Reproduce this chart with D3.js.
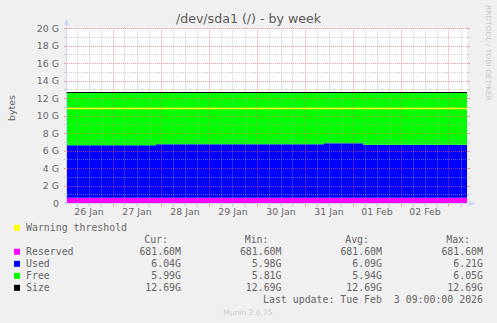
<!DOCTYPE html>
<html>
<head>
<meta charset="utf-8">
<script src="https://cdn.jsdelivr.net/npm/d3@7"></script>
<style>
  html, body { margin: 0; padding: 0; background: #F0F0F0; }
  svg { display: block; }
  text { white-space: pre; }
</style>
</head>
<body>
<script>
// ---- data (values in GiB) ----
const stepTimes = ["2026-01-26T01:00", "2026-01-27T21:30", "2026-01-31T09:30", "2026-02-01T05:00", "2026-02-03T09:00"];
const reservedVals = [0.6656, 0.6656, 0.6656, 0.6656, 0.6656];
const usedVals     = [5.98, 6.10, 6.21, 6.04, 6.04];
const freeVals     = [6.05, 5.92, 5.81, 5.99, 5.99];
const sizeVals     = [12.69, 12.69, 12.69, 12.69, 12.69];
const warningVals  = [10.88, 10.88, 10.88, 10.88, 10.88];

const yTickValues = [0, 2, 4, 6, 8, 10, 12, 14, 16, 18, 20];
const yTickLabels = ["0", "2 G", "4 G", "6 G", "8 G", "10 G", "12 G", "14 G", "16 G", "18 G", "20 G"];
const dayLabels = ["26 Jan", "27 Jan", "28 Jan", "29 Jan", "30 Jan", "31 Jan", "01 Feb", "02 Feb"];
const dayDates  = ["2026-01-26", "2026-01-27", "2026-01-28", "2026-01-29", "2026-01-30", "2026-01-31", "2026-02-01", "2026-02-02"];

const legendNames  = ["Reserved", "Used", "Free", "Size"];
const legendColors = ["#FF00FF", "#0000FF", "#00FF00", "#000000"];
const statHeaders  = ["Cur:", "Min:", "Avg:", "Max:"];
const statCur = ["681.60M", "6.04G", "5.99G", "12.69G"];
const statMin = ["681.60M", "5.98G", "5.81G", "12.69G"];
const statAvg = ["681.60M", "6.09G", "5.94G", "12.69G"];
const statMax = ["681.60M", "6.21G", "6.05G", "12.69G"];
const warningName = "Warning threshold";
const warningColor = "#FFFF00";
const lastUpdate = "Last update: Tue Feb  3 09:00:00 2026";

// ---- layout ----
const W = 497, H = 323;
const parse = d3.utcParse("%Y-%m-%dT%H:%M");
const parseDay = d3.utcParse("%Y-%m-%d");
const times = stepTimes.map(parse);

const x = d3.scaleUtc().domain([times[0], times[times.length - 1]]).range([67, 467]);
const y = d3.scaleLinear().domain([0, 20]).range([203.5, 28.5]);
const snap = v => Math.floor(v) + 0.5;

const svg = d3.select("body").append("svg").attr("width", W).attr("height", H);
svg.append("rect").attr("width", W).attr("height", H).attr("fill", "#F0F0F0");

// plot canvas
svg.append("rect").attr("x", 67).attr("y", 28.5).attr("width", 400).attr("height", 175).attr("fill", "#FFFFFF");

// stacked areas
const rows = times.map((t, i) => ({
  t,
  r: reservedVals[i],
  u: usedVals[i],
  f: freeVals[i]
}));
const area = (lo, hi) => d3.area().curve(d3.curveStepAfter)
  .x(d => x(d.t)).y0(d => y(lo(d))).y1(d => y(hi(d)));

svg.append("path").datum(rows).attr("fill", "#FF00FF")
  .attr("d", area(d => 0, d => d.r));
svg.append("path").datum(rows).attr("fill", "#0000FF")
  .attr("d", area(d => d.r, d => d.r + d.u));
svg.append("path").datum(rows).attr("fill", "#00FF00")
  .attr("d", area(d => d.r + d.u, d => d.r + d.u + d.f));

// grid over the areas
const gridMinor = "rgba(170,170,170,0.55)";
const gridMajor = "rgba(240,90,90,0.6)";
const grid = svg.append("g").attr("stroke-width", 1).attr("stroke-dasharray", "1,1").attr("fill", "none");

const yMinor = d3.range(1, 20, 2);
yMinor.forEach(v => grid.append("line").attr("x1", 67).attr("x2", 467)
  .attr("y1", snap(y(v))).attr("y2", snap(y(v))).attr("stroke", gridMinor));
yTickValues.filter(v => v > 0).forEach(v => grid.append("line").attr("x1", 67).attr("x2", 467)
  .attr("y1", snap(y(v))).attr("y2", snap(y(v))).attr("stroke", gridMajor));

const sixHours = d3.utcHour.every(6).range(times[0], times[times.length - 1]);
sixHours.forEach(t => {
  const major = t.getUTCHours() === 0;
  grid.append("line").attr("x1", snap(x(t))).attr("x2", snap(x(t)))
    .attr("y1", 28.5).attr("y2", 203.5).attr("stroke", major ? gridMajor : gridMinor);
});

// small solid ticks outside the canvas
const ticks = svg.append("g").attr("stroke-width", 1);
d3.range(1, 21).forEach(v => {
  const c = v % 2 === 0 ? gridMajor : gridMinor;
  ticks.append("line").attr("x1", 64).attr("x2", 67).attr("y1", snap(y(v))).attr("y2", snap(y(v))).attr("stroke", c);
  ticks.append("line").attr("x1", 467).attr("x2", 470).attr("y1", snap(y(v))).attr("y2", snap(y(v))).attr("stroke", c);
});
sixHours.forEach(t => {
  const c = t.getUTCHours() === 0 ? gridMajor : gridMinor;
  ticks.append("line").attr("x1", snap(x(t))).attr("x2", snap(x(t))).attr("y1", 203.5).attr("y2", 206.5).attr("stroke", c);
});

// lines: size and warning threshold
const line = vals => d3.line().curve(d3.curveStepAfter).x((d, i) => x(times[i])).y(d => snap(y(d)))(vals);
svg.append("path").attr("d", line(warningVals)).attr("stroke", warningColor).attr("stroke-width", 1.3).attr("fill", "none");
svg.append("path").attr("d", line(sizeVals)).attr("stroke", "#000000").attr("stroke-width", 1.2).attr("fill", "none");

// axes with arrows
const axisColor = "#CFD6F8";
svg.append("line").attr("x1", 66.5).attr("x2", 66.5).attr("y1", 206).attr("y2", 24).attr("stroke", axisColor);
svg.append("path").attr("d", "M63.5,25 L69.5,25 L66.5,19 Z").attr("fill", axisColor);
svg.append("line").attr("x1", 64).attr("x2", 470).attr("y1", 203.5).attr("y2", 203.5).attr("stroke", axisColor);
svg.append("path").attr("d", "M469,200.5 L469,206.5 L475,203.5 Z").attr("fill", axisColor);

// axis labels
const sans = "'DejaVu Sans', Verdana, sans-serif";
const mono = "'DejaVu Sans Mono', monospace";
const fontColor = "#666666";

svg.append("g").selectAll("text").data(yTickValues).join("text")
  .attr("x", 59).attr("y", d => y(d) + 3.4)
  .attr("text-anchor", "end").attr("font-family", sans).attr("font-size", 9.4).attr("fill", fontColor)
  .text((d, i) => yTickLabels[i]);

svg.append("g").selectAll("text").data(dayDates).join("text")
  .attr("x", d => x(d3.utcHour.offset(parseDay(d), 12)))
  .attr("y", 215)
  .attr("text-anchor", "middle").attr("font-family", sans).attr("font-size", 9.4).attr("fill", fontColor)
  .text((d, i) => dayLabels[i]);

svg.append("text").attr("transform", "translate(15,108) rotate(-90)")
  .attr("text-anchor", "middle").attr("font-family", sans).attr("font-size", 9.4).attr("fill", fontColor)
  .text("bytes");

// title
svg.append("text").attr("x", 248.5).attr("y", 23)
  .attr("text-anchor", "middle").attr("font-family", sans).attr("font-size", 12.6).attr("fill", "#5A5A5A")
  .text("/dev/sda1 (/) - by week");

// side watermark
svg.append("text").attr("transform", "translate(486,5) rotate(90)")
  .attr("font-family", sans).attr("font-size", 7).attr("fill", "#C8C8C8")
  .attr("textLength", 96).attr("lengthAdjust", "spacingAndGlyphs")
  .text("RRDTOOL / TOBI OETIKER");

// legend
const lg = svg.append("g").attr("font-family", mono).attr("font-size", 9.9).attr("fill", fontColor);
const rowY = [231.2, 243.4, 255.2, 267.3, 279.3, 291.3, 303.2];

lg.append("rect").attr("x", 14).attr("y", rowY[0] - 6.5).attr("width", 6).attr("height", 6).attr("fill", warningColor);
lg.append("text").attr("x", 26).attr("y", rowY[0]).text(warningName);

const colRight = [181, 281.5, 382, 483];
statHeaders.forEach((h, i) => lg.append("text").attr("x", colRight[i] - 13).attr("y", rowY[1]).attr("text-anchor", "end").text(h));

const cols = [statCur, statMin, statAvg, statMax];
legendNames.forEach((name, r) => {
  const yy = rowY[2 + r];
  lg.append("rect").attr("x", 14).attr("y", yy - 6.5).attr("width", 6).attr("height", 6).attr("fill", legendColors[r]);
  lg.append("text").attr("x", 26).attr("y", yy).text(name);
  cols.forEach((col, c) => lg.append("text").attr("x", colRight[c]).attr("y", yy).attr("text-anchor", "end").text(col[r]));
});

lg.append("text").attr("x", 483).attr("y", rowY[6]).attr("text-anchor", "end").text(lastUpdate);

// footer
svg.append("text").attr("x", 248).attr("y", 315)
  .attr("text-anchor", "middle").attr("font-family", sans).attr("font-size", 7.5).attr("fill", "#CCCCCC")
  .text("Munin 2.0.75");
</script>
</body>
</html>
